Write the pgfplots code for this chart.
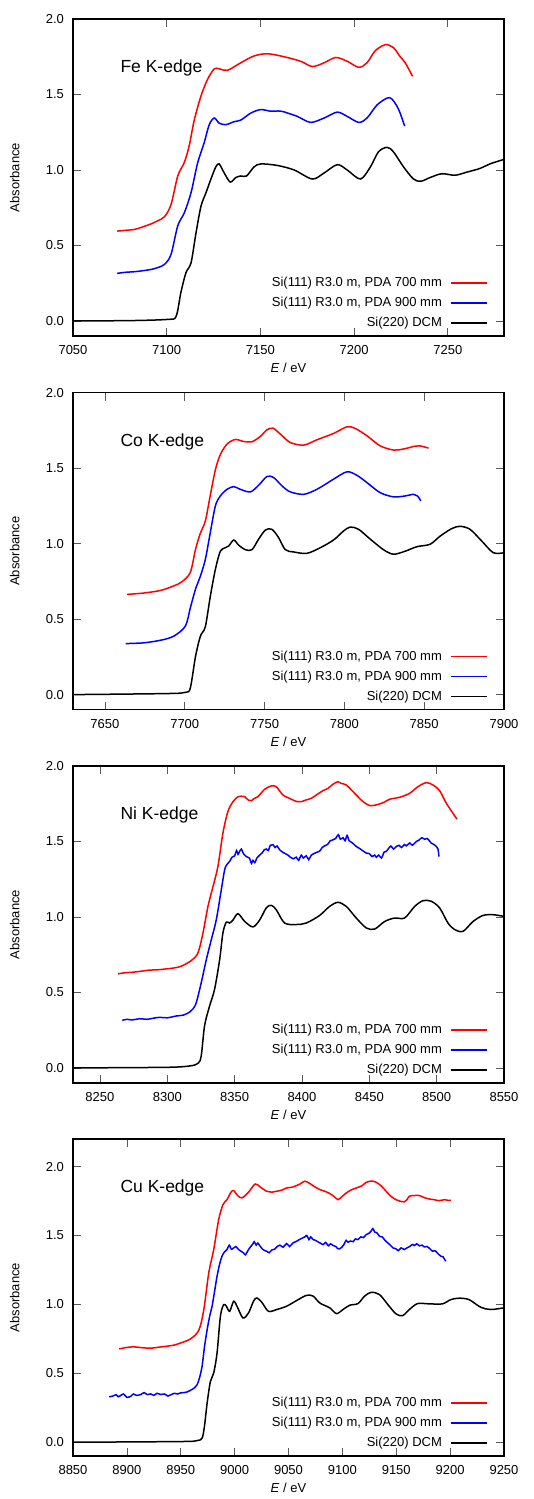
\documentclass[border=0pt]{standalone}
\usepackage{fontspec}
\setmainfont{Liberation Sans}
\usepackage{pgfplots}
\pgfplotsset{compat=1.18}

\pgfplotsset{
  xafs/.style={
    scale only axis, width=431bp, height=317bp, anchor=north west,
    ymin=-0.1, ymax=2.0, ytick={0,0.5,1,1.5,2},
    tick align=inside, major tick length=8bp,
    tick style={line width=0.6bp, black!65},
    axis line style={line width=1.1bp},
    /pgf/number format/assume math mode=true,
    xticklabel style={/pgf/number format/set thousands separator={}, yshift=-5bp},
    yticklabel style={/pgf/number format/fixed, /pgf/number format/fixed zerofill,
      /pgf/number format/precision=1, xshift=-4.5bp},
    ylabel={Absorbance},
    every axis y label/.style={at={(axis description cs:-0.1137,0.5)}, rotate=90, anchor=south},
    xlabel={\textit{E} / eV},
    every axis x label/.style={at={(axis description cs:0.5,0)}, anchor=center, yshift=-32bp},
    legend plot pos=right, legend cell align=right,
    legend style={at={(1,0)}, anchor=south east, xshift=-15.7bp, yshift=7bp,
      draw=none, fill=none, inner sep=0pt, row sep=8bp, column sep=8.7bp,
      nodes={inner sep=0pt, text height=9.5bp, text depth=2.5bp}},
    legend image code/.code={\draw[#1] (0bp,0bp) -- (36bp,0bp);},
    every axis plot/.append style={line width=1.5bp, no marks, smooth, tension=0.5},
  },
}
\tikzset{edgelbl/.style={at={(axis description cs:0.0998,0.83)}, anchor=base west,
    font=\fontsize{17.5bp}{21bp}\selectfont}}
\newcommand\keyentries{%
  \addlegendimage{red, line width=1.5bp}\addlegendentry{Si(111) R3.0 m, PDA 700 mm}
  \addlegendimage{blue, line width=1.5bp}\addlegendentry{Si(111) R3.0 m, PDA 900 mm}
  \addlegendimage{black, line width=1.5bp}\addlegendentry{Si(220) DCM}}

\begin{document}
\fontsize{13bp}{15.6bp}\selectfont
\begin{tikzpicture}
\useasboundingbox (0,0) rectangle (534bp,-1499bp);

% ---------- Fe ----------
\begin{axis}[xafs, at={(73bp,-19bp)}, xmin=7050, xmax=7280,
  xtick={7050,7100,7150,7200,7250}]
\addplot[red, forget plot] coordinates {
 (7073.6,0.595)(7078,0.600)(7082.8,0.606)(7087,0.622)(7091.7,0.643)(7095,0.662)(7098.8,0.69)
 (7102.3,0.77)(7105.9,0.96)(7109.4,1.05)(7112,1.16)(7114.7,1.33)(7118.3,1.49)(7121.8,1.60)
 (7125.4,1.67)(7128,1.67)(7132.4,1.66)(7139.5,1.71)(7146.6,1.755)(7153.7,1.77)(7162.6,1.75)
 (7171.5,1.72)(7177.7,1.685)(7184,1.71)(7190.2,1.745)(7196.3,1.72)(7202.5,1.68)(7206.9,1.71)
 (7211.3,1.79)(7216.7,1.83)(7221,1.81)(7224.6,1.75)(7227.3,1.71)(7231.2,1.62)};
\addplot[blue, forget plot] coordinates {
 (7073.6,0.315)(7078,0.322)(7082.8,0.326)(7087,0.332)(7091.7,0.341)(7095,0.352)(7098.8,0.374)
 (7102.3,0.44)(7105.9,0.63)(7109.4,0.716)(7113,0.85)(7116.5,1.046)(7120,1.18)(7122.7,1.30)
 (7125.4,1.344)(7128,1.31)(7131.6,1.30)(7136,1.32)(7139.5,1.33)(7144.9,1.377)(7150.2,1.40)
 (7155,1.39)(7160.8,1.39)(7165,1.375)(7169.7,1.355)(7176.8,1.315)(7184,1.344)(7191,1.383)
 (7196.3,1.355)(7202.5,1.315)(7206.9,1.344)(7212.2,1.43)(7217.6,1.476)(7220.2,1.47)
 (7223.8,1.40)(7227,1.29)};
\addplot[black, forget plot] coordinates {
 (7050,0)(7080,0.002)(7100.5,0.01)(7105,0.03)(7107.6,0.19)(7110.3,0.32)(7113,0.385)
 (7115.6,0.58)(7118.3,0.76)(7121,0.85)(7123.6,0.94)(7126.2,1.02)(7128,1.04)(7130.7,0.98)
 (7133.9,0.92)(7136.9,0.95)(7139.5,0.96)(7142.6,0.96)(7146.6,1.02)(7150.2,1.04)(7159,1.03)
 (7168,1.00)(7177.7,0.94)(7184,0.98)(7191,1.035)(7196.3,1.0)(7203.4,0.94)(7208.7,1.02)
 (7213,1.12)(7217.6,1.15)(7221,1.12)(7226.4,1.02)(7231.7,0.94)(7235.6,0.925)(7240.6,0.95)
 (7246.8,0.975)(7253.9,0.965)(7260,0.985)(7267.2,1.01)(7272.5,1.04)(7280,1.07)};
\keyentries
\node[edgelbl] {Fe K-edge};
\end{axis}

% ---------- Co ----------
\begin{axis}[xafs, at={(73bp,-392.7bp)}, xmin=7630, xmax=7900,
  xtick={7650,7700,7750,7800,7850,7900}]
\addplot[red, forget plot] coordinates {
 (7663.9,0.664)(7674.3,0.673)(7684.8,0.69)(7693.1,0.72)(7698.3,0.748)(7703.5,0.81)
 (7706.7,0.96)(7709.8,1.07)(7712.9,1.15)(7716,1.32)(7719.2,1.49)(7722.3,1.59)(7726.5,1.66)
 (7731.7,1.69)(7736.9,1.677)(7742.1,1.675)(7747.3,1.71)(7751.5,1.754)(7755.3,1.765)
 (7759.9,1.726)(7766.1,1.67)(7774.5,1.653)(7782.8,1.688)(7793.2,1.73)(7801.6,1.774)
 (7806.8,1.763)(7814.1,1.715)(7822.4,1.648)(7830.8,1.62)(7837,1.627)(7844.3,1.646)
 (7847.4,1.648)(7852.7,1.633)};
\addplot[blue, forget plot] coordinates {
 (7662.9,0.338)(7674.3,0.343)(7684.8,0.36)(7693.1,0.387)(7700.4,0.454)(7703.5,0.575)
 (7706.7,0.697)(7709.8,0.785)(7712.9,0.896)(7716,1.073)(7719.2,1.25)(7722.3,1.316)
 (7726.5,1.36)(7730.7,1.378)(7734.8,1.36)(7741.1,1.343)(7746.3,1.387)(7751.5,1.445)
 (7755.7,1.438)(7760.9,1.383)(7766.1,1.343)(7774.5,1.327)(7782.8,1.36)(7793.2,1.427)
 (7801.6,1.476)(7807.8,1.453)(7814.1,1.405)(7822.4,1.338)(7830.8,1.31)(7838.1,1.316)
 (7843.3,1.327)(7845.8,1.316)(7847.9,1.283)};
\addplot[black, forget plot] coordinates {
 (7630,0)(7689,0.007)(7700.4,0.015)(7703.5,0.044)(7706.7,0.25)(7709.8,0.387)(7712.9,0.45)
 (7716,0.65)(7719.2,0.83)(7722.3,0.95)(7725.4,0.973)(7727.5,0.984)(7730.7,1.024)(7733.8,0.99)
 (7738,0.96)(7742.1,0.96)(7746.3,1.03)(7750.5,1.09)(7754.6,1.095)(7758.8,1.04)(7763,0.96)
 (7768.2,0.945)(7776.5,0.936)(7784.9,0.973)(7793.2,1.024)(7799.5,1.084)(7803.7,1.11)
 (7808.9,1.095)(7816.2,1.03)(7824.5,0.96)(7830.8,0.93)(7838.1,0.95)(7845.4,0.98)
 (7853.7,0.996)(7860,1.05)(7867.3,1.10)(7872.5,1.115)(7878.7,1.095)(7886,1.018)
 (7893.3,0.94)(7900,0.94)};
\keyentries
\node[edgelbl] {Co K-edge};
\end{axis}

% ---------- Ni ----------
\begin{axis}[xafs, at={(73bp,-766bp)}, xmin=8230, xmax=8550,
  xtick={8250,8300,8350,8400,8450,8500,8550}]
\addplot[red, forget plot] coordinates {
 (8263.4,0.623)(8268,0.63)(8274.5,0.634)(8280,0.64)(8286.9,0.648)(8293,0.65)(8299.3,0.656)
 (8305,0.662)(8310.4,0.674)(8317.8,0.711)(8322.8,0.762)(8326.5,0.894)(8330.2,1.07)
 (8333.9,1.20)(8337.6,1.335)(8341.3,1.555)(8345,1.698)(8348.8,1.764)(8352.5,1.797)
 (8355,1.80)(8357.4,1.797)(8360,1.775)(8362.4,1.77)(8364.5,1.785)(8367.3,1.797)
 (8372.3,1.846)(8377.2,1.868)(8380.9,1.863)(8385.9,1.808)(8392.1,1.78)(8396,1.765)
 (8399.5,1.764)(8403,1.775)(8406.9,1.786)(8411,1.81)(8415.6,1.837)(8419,1.85)(8423,1.879)
 (8426.7,1.896)(8429,1.885)(8432.9,1.874)(8439.1,1.819)(8445.3,1.764)(8450.2,1.738)
 (8454,1.74)(8457.7,1.749)(8461,1.76)(8465.1,1.78)(8472.5,1.793)(8479.9,1.819)
 (8486.1,1.863)(8492.3,1.89)(8497.3,1.874)(8502.2,1.837)(8507.2,1.753)(8515.1,1.648)};
\addplot[blue, forget plot] coordinates {
 (8266.6,0.315)(8270,0.322)(8274,0.318)(8279.5,0.326)(8285,0.322)(8290,0.33)(8294.3,0.335)
 (8300,0.332)(8306.7,0.344)(8312,0.35)(8316.6,0.37)(8319,0.39)(8321.5,0.432)(8325.2,0.564)
 (8329,0.718)(8332.7,0.85)(8336.4,0.982)(8340.1,1.18)(8342.6,1.313)(8344.5,1.35)
 (8346.3,1.368)(8348,1.395)(8350,1.405)(8351.5,1.44)(8352.5,1.415)(8353.7,1.434)
 (8355,1.45)(8356.5,1.42)(8358.7,1.40)(8361,1.39)(8362.5,1.355)(8363.6,1.375)(8365,1.36)
 (8366.5,1.39)(8368.6,1.41)(8370.5,1.425)(8372,1.445)(8373.5,1.45)(8375,1.44)(8376.5,1.475)
 (8378.5,1.478)(8380,1.46)(8381.5,1.47)(8383.4,1.445)(8385.5,1.43)(8387.5,1.42)
 (8389.6,1.41)(8391.5,1.395)(8393.5,1.385)(8395.8,1.396)(8397.5,1.375)(8399.5,1.41)
 (8401,1.39)(8403.2,1.405)(8405,1.38)(8407,1.41)(8410.6,1.427)(8413,1.435)(8415,1.46)
 (8416.8,1.471)(8419,1.48)(8421,1.505)(8423,1.511)(8425,1.52)(8427,1.545)(8428.5,1.515)
 (8430.5,1.525)(8432,1.505)(8433.5,1.54)(8435,1.505)(8437.5,1.49)(8440.3,1.467)
 (8442.5,1.455)(8445,1.44)(8447.8,1.423)(8450,1.42)(8452,1.40)(8454,1.41)(8455.2,1.395)
 (8457,1.41)(8459,1.39)(8461,1.43)(8462.6,1.434)(8464,1.45)(8466,1.47)(8468,1.45)
 (8470,1.467)(8472,1.475)(8474,1.46)(8476,1.48)(8477.5,1.471)(8480,1.49)(8482,1.475)
 (8484.9,1.50)(8487,1.51)(8489,1.525)(8491.1,1.515)(8493,1.52)(8495,1.50)(8496,1.489)
 (8498,1.48)(8499.8,1.467)(8501,1.45)(8501.7,1.40)};
\addplot[black, forget plot] coordinates {
 (8230,0)(8299.3,0.004)(8316.6,0.013)(8322.8,0.03)(8325.2,0.08)(8327.7,0.28)(8331.4,0.41)
 (8335.1,0.52)(8338.9,0.718)(8341.3,0.894)(8343.8,0.965)(8346.3,0.96)(8348.8,0.98)
 (8352.5,1.022)(8357.4,0.971)(8363.6,0.934)(8368.6,0.98)(8373.5,1.06)(8377.2,1.077)
 (8380.9,1.048)(8387.1,0.96)(8395.8,0.95)(8403.2,0.96)(8413.1,1.01)(8420.5,1.07)
 (8426.7,1.097)(8432.9,1.07)(8440.3,0.993)(8447.8,0.927)(8454,0.92)(8461.4,0.97)
 (8468.8,0.993)(8476.2,0.993)(8483.7,1.07)(8489.9,1.108)(8496,1.104)(8502.2,1.06)
 (8508.4,0.96)(8513.4,0.916)(8519.6,0.905)(8527,0.97)(8534.4,1.01)(8541.8,1.015)
 (8550,1.004)};
\keyentries
\node[edgelbl] {Ni K-edge};
\end{axis}

% ---------- Cu ----------
\begin{axis}[xafs, at={(73bp,-1139bp)}, xmin=8850, xmax=9250, ymax=2.2,
  xtick={8850,8900,8950,9000,9050,9100,9150,9200,9250}]
\addplot[red, forget plot] coordinates {
 (8892.9,0.677)(8900,0.688)(8906.8,0.692)(8914,0.686)(8922.2,0.682)(8930,0.69)
 (8937.5,0.697)(8944,0.705)(8949.8,0.72)(8959.1,0.75)(8966.8,0.813)(8971.4,0.962)
 (8976,1.229)(8980.6,1.398)(8985.2,1.615)(8989.2,1.724)(8992.9,1.76)(8996.6,1.814)
 (8999.1,1.826)(9002.8,1.79)(9006.8,1.773)(9012.9,1.814)(9019.1,1.874)(9023.7,1.852)
 (9029.8,1.821)(9035,1.815)(9039.1,1.821)(9044,1.83)(9048.3,1.845)(9053,1.85)(9057.5,1.862)
 (9061,1.875)(9065.2,1.894)(9069.8,1.877)(9074,1.855)(9079.1,1.833)(9084,1.82)(9088.3,1.804)
 (9092,1.785)(9096,1.76)(9100,1.785)(9103.7,1.809)(9108,1.83)(9112.9,1.845)(9118,1.86)
 (9122.2,1.886)(9127,1.895)(9131.4,1.886)(9136,1.86)(9140.6,1.821)(9145,1.785)
 (9149.8,1.76)(9153,1.75)(9157.5,1.744)(9160,1.76)(9162.2,1.785)(9167,1.79)(9171.4,1.79)
 (9176,1.775)(9180.6,1.765)(9185,1.76)(9189.8,1.753)(9195,1.76)(9198,1.755)(9200.6,1.756)};
\addplot[blue, forget plot] coordinates {
 (8883.5,0.33)(8887,0.335)(8890,0.345)(8892,0.33)(8894.5,0.341)(8897,0.35)(8900,0.325)
 (8903.7,0.334)(8906,0.35)(8909,0.34)(8912.9,0.346)(8916,0.36)(8919,0.345)(8922.2,0.351)
 (8925,0.34)(8928,0.355)(8931.4,0.346)(8935,0.35)(8938,0.335)(8940.6,0.343)(8944,0.355)
 (8947,0.35)(8949.8,0.358)(8953,0.36)(8956,0.365)(8959.1,0.377)(8962,0.39)(8965.2,0.418)
 (8967.5,0.47)(8969.8,0.551)(8972,0.69)(8974.5,0.817)(8977,0.92)(8979.1,0.987)(8981.5,1.10)
 (8983.7,1.204)(8986,1.29)(8988.3,1.35)(8990.5,1.38)(8992.9,1.398)(8995,1.43)(8997,1.40)
 (8999.1,1.41)(9001,1.42)(9003.7,1.398)(9006,1.385)(9008.3,1.374)(9010,1.36)(9012.9,1.398)
 (9015,1.42)(9017,1.44)(9018.2,1.455)(9020,1.43)(9021.5,1.445)(9023.7,1.422)(9026,1.40)
 (9028,1.39)(9029.8,1.386)(9032,1.375)(9034.5,1.395)(9037,1.40)(9039.1,1.417)(9042,1.43)
 (9045,1.415)(9048.3,1.441)(9051,1.42)(9054,1.445)(9057.5,1.458)(9060,1.47)(9062.5,1.48)
 (9065.2,1.49)(9067,1.50)(9069,1.47)(9070.5,1.49)(9072.9,1.47)(9075,1.465)(9077,1.455)
 (9079.5,1.445)(9082.2,1.434)(9084.5,1.45)(9087,1.425)(9089,1.44)(9091.4,1.427)(9094,1.42)
 (9095.5,1.405)(9097.5,1.403)(9099.5,1.415)(9101.5,1.435)(9103.5,1.465)(9105.2,1.451)
 (9107.5,1.46)(9110,1.455)(9112,1.475)(9114.5,1.47)(9117,1.49)(9119.5,1.485)(9122.2,1.507)
 (9124.5,1.515)(9126.5,1.53)(9128.3,1.55)(9130,1.525)(9132,1.52)(9134.5,1.494)(9137,1.49)
 (9139.5,1.465)(9142.2,1.446)(9144.5,1.43)(9147,1.41)(9149.8,1.403)(9152,1.39)(9154.5,1.41)
 (9157.5,1.398)(9160,1.41)(9162.5,1.42)(9165,1.435)(9166.8,1.427)(9169,1.44)(9171.5,1.425)
 (9174,1.43)(9176,1.417)(9178.5,1.42)(9181,1.405)(9183.7,1.386)(9186,1.39)(9188.5,1.37)
 (9191.4,1.35)(9193.5,1.345)(9195,1.325)(9196,1.313)};
\addplot[black, forget plot] coordinates {
 (8850,0)(8949.8,0.005)(8965.2,0.012)(8969.8,0.03)(8972,0.116)(8974.5,0.285)(8977.5,0.44)
 (8980.6,0.503)(8983.7,0.648)(8986.8,0.914)(8989.8,0.998)(8992.3,0.987)(8995.4,0.95)
 (8999.1,1.023)(9002.2,0.987)(9007.7,0.902)(9012.9,0.938)(9017.5,1.023)(9020.6,1.047)
 (9025.2,1.016)(9031.4,0.95)(9039.1,0.963)(9048.3,0.987)(9057.5,1.028)(9066.8,1.066)
 (9072.9,1.06)(9079.1,1.01)(9088.3,0.975)(9094.5,0.933)(9100.6,0.963)(9106.8,0.994)
 (9114.5,1.006)(9120.6,1.06)(9126.8,1.088)(9134.5,1.071)(9142.2,0.999)(9149.8,0.931)
 (9156,0.919)(9162.2,0.963)(9169.8,1.006)(9180.6,1.004)(9192.9,1.004)(9200.6,1.035)
 (9208.3,1.045)(9217.5,1.035)(9228.3,0.98)(9237.5,0.963)(9250,0.975)};
\keyentries
\node[edgelbl] {Cu K-edge};
\end{axis}
\end{tikzpicture}
\end{document}
